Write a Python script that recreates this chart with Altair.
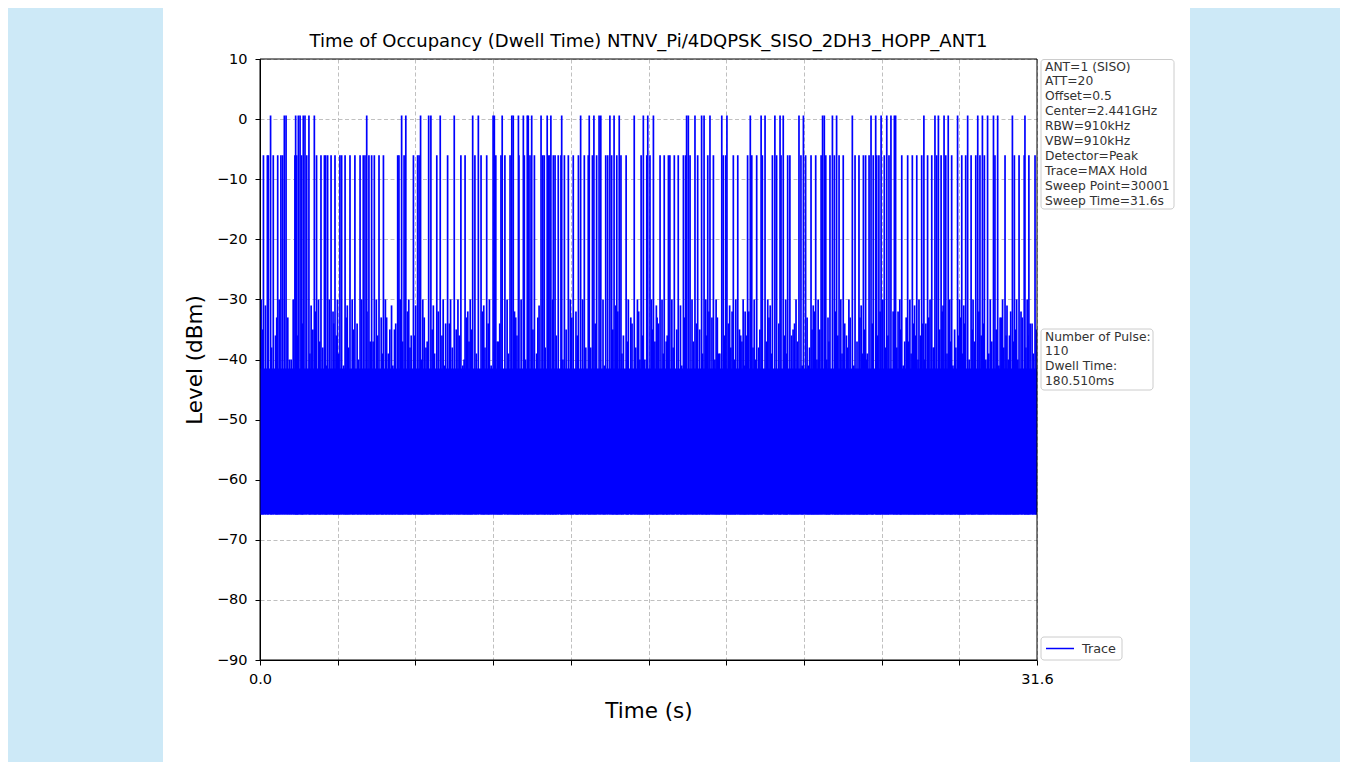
import altair as alt
import pandas as pd

TITLE = "Time of Occupancy (Dwell Time) NTNV_Pi/4DQPSK_SISO_2DH3_HOPP_ANT1"
X_MAX = 31.6
Y_DOMAIN = [-90, 10]
y_ticks = [-90, -80, -70, -60, -50, -40, -30, -20, -10, 0, 10]
x_ticks = [0, 3.16, 6.32, 9.48, 12.64, 15.8, 18.96, 22.12, 25.28, 28.44, 31.6]

# pulses reaching ~0 dBm (seconds)
top_pulse_t = [0.43, 0.99, 1.06, 1.45, 1.56, 1.63, 1.76, 1.83, 1.99, 2.21, 4.34, 5.76, 5.93,
               6.53, 6.86, 6.95, 7.33, 7.90, 8.65, 8.88, 9.48, 9.53, 9.85, 10.24, 10.30, 10.51,
               10.71, 10.87, 10.91, 11.05, 11.43, 11.68, 11.83, 12.27, 13.04, 13.39, 13.58,
               13.79, 13.86, 14.23, 14.40, 14.61, 15.22, 15.59, 15.77, 16.00, 17.35, 17.42,
               17.69, 17.96, 18.06, 18.30, 18.78, 18.99, 19.94, 20.38, 20.54, 20.94, 21.15,
               21.28, 21.92, 22.10, 22.88, 22.95, 23.28, 23.45, 24.09, 24.85, 25.04, 25.26,
               25.49, 25.66, 25.80, 25.85, 27.00, 27.45, 27.59, 27.82, 27.99, 28.37, 28.78,
               29.19, 29.38, 29.59, 29.83, 30.00, 30.60, 31.11]
TOP_LEVEL = 0.6

# pulses reaching ~-6 dBm (seconds)
mid_pulse_t = [0.14, 0.30, 0.34, 0.54, 0.72, 0.85, 0.92, 1.42, 1.49, 1.69, 1.90, 2.30, 2.48,
               2.62, 2.67, 2.75, 2.89, 3.05, 3.25, 3.32, 3.46, 3.66, 3.86, 4.07, 4.20, 4.27,
               4.43, 4.54, 4.65, 4.84, 5.02, 5.60, 5.65, 5.86, 6.24, 6.41, 6.47, 7.19, 7.63,
               8.17, 8.34, 8.74, 8.99, 9.22, 9.59, 9.80, 9.96, 10.17, 10.53, 10.75, 10.98,
               11.16, 11.50, 11.56, 11.73, 11.79, 11.93, 12.00, 12.13, 12.24, 12.38, 12.54,
               12.74, 12.95, 13.19, 13.35, 13.52, 13.69, 14.06, 14.14, 14.30, 14.51, 14.68,
               14.89, 15.50, 15.73, 15.86, 16.27, 16.44, 16.61, 16.67, 16.85, 17.01, 17.22,
               17.31, 17.49, 17.80, 18.21, 18.44, 18.84, 18.94, 19.25, 19.43, 19.83, 20.00,
               20.20, 20.43, 20.84, 21.01, 21.19, 21.46, 21.55, 22.00, 22.19, 22.41, 22.60,
               22.82, 23.01, 23.18, 23.36, 23.55, 23.72, 24.20, 24.36, 24.54, 24.63, 24.77,
               24.94, 25.08, 25.17, 25.39, 25.58, 26.10, 26.34, 26.53, 26.71, 26.91, 27.15,
               27.32, 27.52, 27.70, 27.89, 28.13, 28.54, 28.70, 28.92, 29.11, 29.28, 29.46,
               29.89, 30.30, 30.68, 30.87, 31.08, 31.27, 31.52]
MID_LEVEL = -6.0

# bursts topping out near -30 dBm (seconds, dBm)
low_spike_t = [0.05, 0.22, 0.63, 0.78, 1.13, 1.27, 1.35, 2.08, 2.15, 2.38,
               2.55, 2.82, 2.97, 3.15, 3.40, 3.55, 3.75, 3.95, 4.13, 4.48,
               4.73, 4.93, 5.10, 5.22, 5.35, 5.47, 5.70, 6.05, 6.15, 6.33,
               6.62, 6.75, 7.05, 7.45, 7.55, 7.75, 8.05, 8.25, 8.45, 8.55,
               9.10, 9.33, 9.70, 10.05, 10.40, 10.62, 11.25, 11.35, 11.90, 12.45,
               12.62, 12.85, 13.12, 13.45, 13.95, 14.47, 14.78, 14.98, 15.08, 15.35,
               15.45, 15.92, 16.12, 16.20, 16.35, 16.52, 16.75, 17.10, 17.57, 17.88,
               18.13, 18.38, 18.55, 18.65, 19.10, 19.35, 19.55, 19.65, 19.73, 20.10,
               20.28, 20.65, 20.75, 21.38, 21.68, 21.80, 22.30, 22.50, 22.70, 23.10,
               23.62, 23.85, 23.95, 24.45, 24.70, 25.33, 25.95, 26.02, 26.22, 26.43,
               26.62, 26.80, 27.08, 27.25, 27.38, 27.78, 28.05, 28.25, 28.45, 28.62,
               29.00, 29.52, 29.70, 30.10, 30.20, 30.38, 30.48, 30.77, 30.95, 31.20,
               31.40]
low_spike_level = [-30, -31, -36, -30, -33, -40, -30, -31, -35, -30,
                   -38, -30, -32, -30, -41, -31, -30, -34, -30, -37,
                   -30, -33, -30, -39, -31, -35, -30, -30, -36, -31,
                   -30, -38, -31, -30, -34, -30, -30, -41, -32, -30,
                   -31, -30, -37, -30, -33, -30, -39, -31, -30, -35,
                   -30, -32, -30, -38, -30, -31, -36, -30, -33, -30,
                   -40, -30, -31, -34, -30, -37, -30, -31, -30, -35,
                   -30, -33, -30, -39, -31, -30, -36, -30, -32, -30,
                   -38, -30, -31, -30, -35, -30, -41, -31, -30, -33,
                   -30, -36, -30, -31, -39, -30, -32, -30, -37, -30,
                   -31, -30, -34, -30, -38, -31, -30, -35, -30, -31,
                   -30, -40, -30, -33, -30, -31, -36, -30, -32, -30,
                   -34]

# bursts topping out between -32 and -41 dBm (seconds, dBm)
mid_burst_t = [0.10, 0.47, 0.68, 1.20, 1.52, 1.72, 2.03, 2.25, 2.43, 2.70,
               3.00, 3.10, 3.20, 3.50, 3.60, 3.80, 4.00, 4.35, 4.60, 4.78,
               4.98, 5.15, 5.28, 5.40, 5.52, 5.80, 6.00, 6.10, 6.28, 6.58,
               6.68, 6.80, 7.00, 7.10, 7.25, 7.40, 7.50, 7.70, 7.82, 7.98,
               8.10, 8.30, 8.40, 8.50, 8.60, 8.80, 9.05, 9.15, 9.28, 9.40,
               9.65, 9.75, 10.10, 10.35, 10.45, 10.80, 11.10, 11.30, 11.60, 12.05,
               12.32, 12.68, 12.90, 13.25, 13.63, 14.00, 14.35, 14.55, 14.72, 14.94,
               15.13, 15.28, 15.40, 15.55, 15.65, 15.97, 16.06, 16.15, 16.40, 16.56,
               16.80, 16.95, 17.15, 17.27, 17.62, 17.75, 18.00, 18.16, 18.26, 18.50,
               18.60, 18.70, 18.89, 19.05, 19.15, 19.20, 19.30, 19.50, 19.60, 19.70,
               19.78, 19.88, 20.05, 20.15, 20.33, 20.60, 20.70, 20.80, 21.10, 21.33,
               21.42, 21.62, 21.74, 21.86, 22.05, 22.25, 22.35, 22.45, 22.55, 22.65,
               22.76, 23.05, 23.14, 23.40, 23.50, 23.67, 23.78, 23.90, 24.00, 24.15,
               24.28, 24.40, 24.50, 24.58, 24.68, 24.90, 25.12, 25.22, 25.44, 25.54,
               25.75, 25.90, 26.06, 26.16, 26.28, 26.38, 26.48, 26.58, 26.66, 26.76,
               26.86, 26.96, 27.04, 27.20, 27.42, 27.64, 27.74, 27.94, 28.09, 28.18,
               28.30, 28.41, 28.50, 28.58, 28.66, 28.84, 28.96, 29.05, 29.24, 29.33,
               29.42, 29.64, 29.76, 29.94, 30.05, 30.15, 30.25, 30.34, 30.43, 30.53,
               30.64, 30.72, 30.82, 31.00, 31.15, 31.24, 31.32, 31.45, 31.56]
mid_burst_level = [-35, -38, -33, -40, -36, -34, -39, -32, -37, -41,
                   -34, -36, -39, -33, -38, -35, -40, -32, -37, -36,
                   -39, -33, -35, -41, -34, -37, -32, -38, -36, -40,
                   -33, -37, -35, -39, -32, -36, -41, -34, -38, -35,
                   -36, -40, -33, -37, -35, -39, -32, -38, -34, -41,
                   -37, -34, -39, -32, -36, -40, -35, -33, -38, -36,
                   -40, -33, -36, -38, -34, -41, -35, -32, -39, -37,
                   -34, -38, -32, -36, -40, -35, -37, -33, -39, -36,
                   -38, -35, -41, -33, -37, -34, -39, -36, -32, -40,
                   -33, -39, -36, -34, -38, -32, -40, -35, -37, -41,
                   -36, -32, -38, -40, -35, -37, -33, -39, -34, -36,
                   -39, -36, -34, -37, -41, -33, -38, -35, -32, -40,
                   -35, -40, -37, -32, -36, -39, -34, -38, -33, -41,
                   -37, -33, -39, -35, -40, -34, -36, -32, -38, -36,
                   -32, -38, -35, -41, -33, -37, -39, -34, -36, -40,
                   -36, -34, -40, -33, -38, -35, -32, -39, -37, -41,
                   -38, -36, -33, -39, -34, -40, -35, -37, -32, -36,
                   -34, -39, -37, -35, -41, -33, -38, -36, -40, -32,
                   -37, -35, -40, -33, -38, -36, -34, -39, -35]

NOISE_FLOOR = -65.8
NOISE_TOP = -41.5

info_lines = ["ANT=1 (SISO)", "ATT=20", "Offset=0.5", "Center=2.441GHz", "RBW=910kHz",
              "VBW=910kHz", "Detector=Peak", "Trace=MAX Hold", "Sweep Point=30001",
              "Sweep Time=31.6s"]
pulse_lines = ["Number of Pulse:", "110", "Dwell Time:", "180.510ms"]
legend_label = "Trace"

BLUE = "#0000ff"
SIDE = "#cde9f7"
FONT = "DejaVu Sans"

spikes = pd.DataFrame({
    "t": top_pulse_t + mid_pulse_t + low_spike_t + mid_burst_t,
    "peak": [TOP_LEVEL] * len(top_pulse_t) + [MID_LEVEL] * len(mid_pulse_t)
            + low_spike_level + mid_burst_level,
})
spikes["floor"] = NOISE_FLOOR
band = pd.DataFrame({"t": [0, X_MAX], "lo": [NOISE_FLOOR] * 2, "hi": [NOISE_TOP] * 2})
one = pd.DataFrame({"k": [0]})

xs = alt.Scale(domain=[0, X_MAX], nice=False, zero=False)
ys = alt.Scale(domain=Y_DOMAIN, nice=False, zero=False)
x_axis = alt.Axis(values=x_ticks, title="Time (s)", grid=True, labelFlush=False,
                  labelPadding=7, titlePadding=15,
                  labelExpr="datum.value == 0 ? '0.0' : (datum.value >= 31.5 ? '31.6' : '')")
y_axis = alt.Axis(values=y_ticks, title="Level (dBm)", grid=True, labelFlush=False,
                  format="d", labelPadding=8, titlePadding=10)

# side panels of the page
sides = alt.layer(
    alt.Chart(one).mark_rect(color=SIDE).encode(
        x=alt.value(-252), x2=alt.value(-97), y=alt.value(-51), y2=alt.value(703)),
    alt.Chart(one).mark_rect(color=SIDE).encode(
        x=alt.value(930), x2=alt.value(1080), y=alt.value(-51), y2=alt.value(703)),
)

band_layer = alt.Chart(band).mark_area(color=BLUE, opacity=1).encode(
    x=alt.X("t:Q", scale=xs, axis=x_axis),
    y=alt.Y("lo:Q", scale=ys, axis=y_axis),
    y2="hi:Q",
)

spike_layer = alt.Chart(spikes).mark_rule(color=BLUE, strokeWidth=1.7).encode(
    x=alt.X("t:Q", scale=xs, axis=x_axis),
    y=alt.Y("floor:Q", scale=ys, axis=y_axis),
    y2="peak:Q",
)

frame = alt.Chart(one).mark_rect(fillOpacity=0, stroke="black", strokeWidth=1).encode(
    x=alt.value(0), x2=alt.value(777), y=alt.value(0), y2=alt.value(601))

title = alt.Chart(pd.DataFrame({"s": [TITLE]})).mark_text(
    align="center", baseline="middle", font=FONT, fontSize=18, color="black").encode(
    text="s:N", x=alt.value(388.5), y=alt.value(-17))

box_style = dict(fill="white", stroke="#cccccc", strokeWidth=1, cornerRadius=3)
boxes = alt.layer(
    alt.Chart(one).mark_rect(**box_style).encode(
        x=alt.value(781), x2=alt.value(914), y=alt.value(0.5), y2=alt.value(150)),
    alt.Chart(one).mark_rect(**box_style).encode(
        x=alt.value(781), x2=alt.value(893), y=alt.value(270), y2=alt.value(331)),
    alt.Chart(one).mark_rect(**box_style).encode(
        x=alt.value(781), x2=alt.value(862), y=alt.value(578), y2=alt.value(601)),
)

text_style = dict(align="left", baseline="top", lineBreak="\n", font=FONT,
                  fontSize=12.3, lineHeight=14.9, color="#333333")
texts = alt.layer(
    alt.Chart(pd.DataFrame({"s": ["\n".join(info_lines)]})).mark_text(**text_style).encode(
        text="s:N", x=alt.value(785), y=alt.value(1.5)),
    alt.Chart(pd.DataFrame({"s": ["\n".join(pulse_lines)]})).mark_text(**text_style).encode(
        text="s:N", x=alt.value(785), y=alt.value(271.5)),
    alt.Chart(pd.DataFrame({"s": [legend_label]})).mark_text(
        align="left", baseline="middle", font=FONT, fontSize=12.8, color="#333333").encode(
        text="s:N", x=alt.value(822), y=alt.value(589.5)),
    alt.Chart(one).mark_rule(color=BLUE, strokeWidth=1.5).encode(
        x=alt.value(786), x2=alt.value(814), y=alt.value(589.5)),
)

chart = alt.layer(sides, band_layer, spike_layer, frame, title, boxes, texts).properties(
    width=777, height=601, padding=0,
).configure_view(
    strokeOpacity=0,
).configure_axis(
    labelFont=FONT, labelFontSize=14.5, labelColor="black",
    titleFont=FONT, titleFontSize=21.5, titleFontWeight="normal", titleColor="black",
    domainColor="black", domainWidth=1, tickColor="black", tickSize=5, tickWidth=1,
    gridColor="#b0b0b0", gridDash=[4, 2.5], gridWidth=0.8,
)

chart.save("out.html", embed_options={"renderer": "svg", "actions": False})
